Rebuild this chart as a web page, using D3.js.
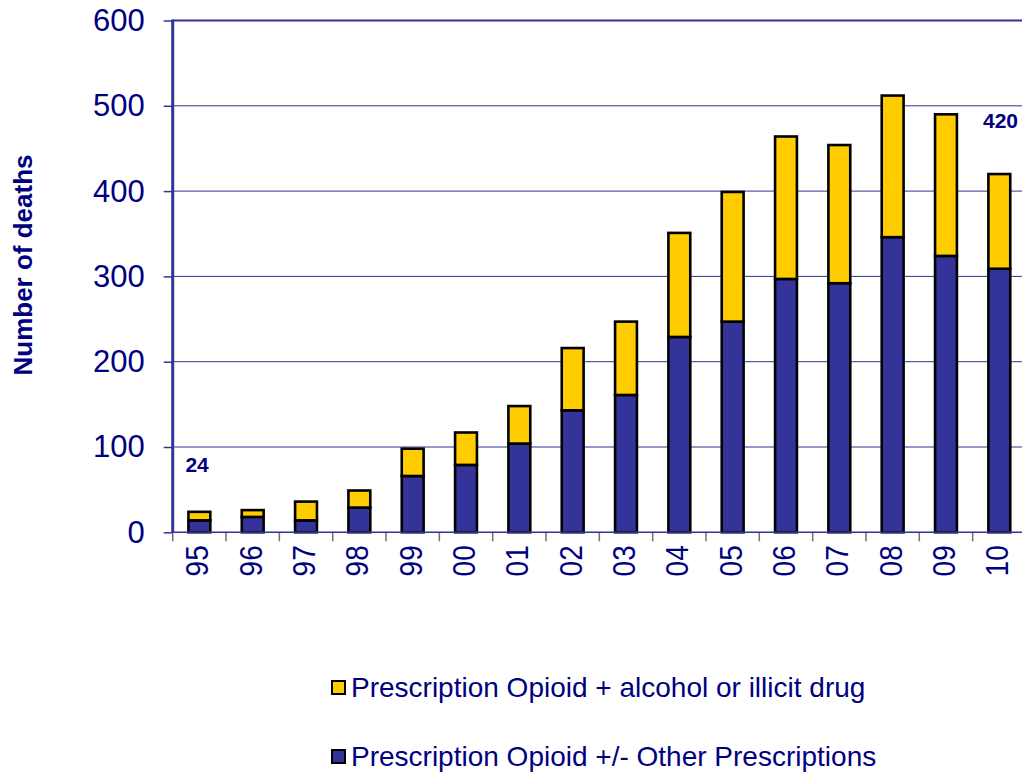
<!DOCTYPE html>
<html>
<head>
<meta charset="utf-8">
<script src="https://cdn.jsdelivr.net/npm/d3@7"></script>
<style>
  html, body { margin: 0; padding: 0; background: #ffffff; }
  svg { display: block; font-family: "Liberation Sans", Arial, sans-serif; }
</style>
</head>
<body>
<svg id="chart" width="1022" height="773"></svg>
<script>
// Opioid-related deaths per year, split by co-involvement
const years = ["95","96","97","98","99","00","01","02","03","04","05","06","07","08","09","10"];
const rxOnly = [14, 18, 14, 29, 66, 79, 104, 143, 161, 229, 247, 297, 292, 346, 324, 309];
const rxPlusAlcoholIllicit = [10, 8, 22, 20, 32, 38, 44, 73, 86, 122, 152, 167, 162, 166, 166, 111];
const yTicks = [0, 100, 200, 300, 400, 500, 600];
const seriesNames = [
  "Prescription Opioid + alcohol or illicit drug",
  "Prescription Opioid +/- Other Prescriptions"
];
const callouts = ["24", "420"];

const navy = "#000080";
const barBlue = "#333399";
const barYellow = "#FFCC00";

const svg = d3.select("#chart");

const plotLeft = 172.7, plotTop = 20.5, plotBottom = 532.3;
const step = 53.33;
const plotRight = plotLeft + step * years.length;

const x = d3.scaleBand()
  .domain(years)
  .range([plotLeft, plotRight])
  .paddingInner(0.59)
  .paddingOuter(0.295);

const y = d3.scaleLinear().domain([0, 600]).range([plotBottom, plotTop]);

const rows = years.map((yr, i) => ({
  year: yr,
  rxOnly: rxOnly[i],
  rxPlusAlcoholIllicit: rxPlusAlcoholIllicit[i]
}));
const stack = d3.stack().keys(["rxOnly", "rxPlusAlcoholIllicit"]);
const layers = stack(rows);
const layerColor = { rxOnly: barBlue, rxPlusAlcoholIllicit: barYellow };

// Horizontal gridlines
svg.append("g")
  .selectAll("line")
  .data(yTicks.filter(t => t > 0 && t < 600))
  .join("line")
  .attr("x1", plotLeft).attr("x2", 1022)
  .attr("y1", d => y(d)).attr("y2", d => y(d))
  .attr("stroke", barBlue).attr("stroke-width", 1);

// Top frame line of the plot area
svg.append("line")
  .attr("x1", plotLeft).attr("x2", 1022)
  .attr("y1", y(600)).attr("y2", y(600))
  .attr("stroke", barBlue).attr("stroke-width", 2);

// Category tick marks below the baseline
const boundaries = d3.range(years.length + 1).map(i => plotLeft + i * x.step());
svg.append("g")
  .selectAll("line")
  .data(boundaries)
  .join("line")
  .attr("x1", d => d).attr("x2", d => d)
  .attr("y1", plotBottom).attr("y2", plotBottom + 9)
  .attr("stroke", "#707070").attr("stroke-width", 1.5);

// Stacked bars
svg.append("g")
  .selectAll("g")
  .data(layers)
  .join("g")
  .attr("fill", d => layerColor[d.key])
  .selectAll("rect")
  .data(d => d)
  .join("rect")
  .attr("x", d => x(d.data.year))
  .attr("width", x.bandwidth())
  .attr("y", d => y(d[1]))
  .attr("height", d => y(d[0]) - y(d[1]))
  .attr("stroke", "#000")
  .attr("stroke-width", 2.6);

// Baseline (x axis line)
svg.append("line")
  .attr("x1", plotLeft).attr("x2", 1022)
  .attr("y1", plotBottom).attr("y2", plotBottom)
  .attr("stroke", barBlue).attr("stroke-width", 1.5);

// Y axis
const yAxis = d3.axisLeft(y).tickValues(yTicks).tickSize(9).tickPadding(19);
const gy = svg.append("g").attr("transform", `translate(${plotLeft},0)`).call(yAxis);
gy.select(".domain")
  .attr("d", `M0,${plotTop - 1}V${plotBottom}`)
  .attr("stroke", barBlue).attr("stroke-width", 3);
gy.selectAll(".tick line").attr("stroke", barBlue).attr("stroke-width", 1.5);
gy.selectAll(".tick text")
  .attr("fill", navy)
  .style("font-size", "31px")
  .style("font-family", "'Liberation Sans', Arial, sans-serif");

// Year labels, rotated
svg.append("g")
  .selectAll("text")
  .data(years)
  .join("text")
  .attr("transform", d => `translate(${x(d) + x.bandwidth() / 2 + 9},${plotBottom + 13}) rotate(-90) scale(1,1.15)`)
  .attr("text-anchor", "end")
  .attr("fill", navy)
  .style("font-size", "28px")
  .text(d => d);

// Y axis title
svg.append("text")
  .attr("transform", "translate(32,265) rotate(-90)")
  .attr("text-anchor", "middle")
  .attr("fill", navy)
  .style("font-size", "26px")
  .style("font-weight", "bold")
  .text("Number of deaths");

// Value callouts for the first and last year
svg.append("text")
  .attr("x", x(years[0]) - 3).attr("y", 472)
  .attr("fill", navy).style("font-size", "21px").style("font-weight", "bold")
  .text(callouts[0]);
svg.append("text")
  .attr("x", 1018).attr("y", 128)
  .attr("text-anchor", "end")
  .attr("fill", navy).style("font-size", "21px").style("font-weight", "bold")
  .text(callouts[1]);

// Legend
const legend = svg.append("g");
const legendItems = [
  { name: seriesNames[0], color: barYellow, y: 697 },
  { name: seriesNames[1], color: barBlue, y: 766 }
];
legendItems.forEach(item => {
  legend.append("rect")
    .attr("x", 332).attr("y", item.y - 16)
    .attr("width", 13).attr("height", 13)
    .attr("fill", item.color)
    .attr("stroke", "#000").attr("stroke-width", 2);
  legend.append("text")
    .attr("x", 351).attr("y", item.y)
    .attr("fill", navy)
    .style("font-size", "28px")
    .text(item.name);
});
</script>
</body>
</html>
